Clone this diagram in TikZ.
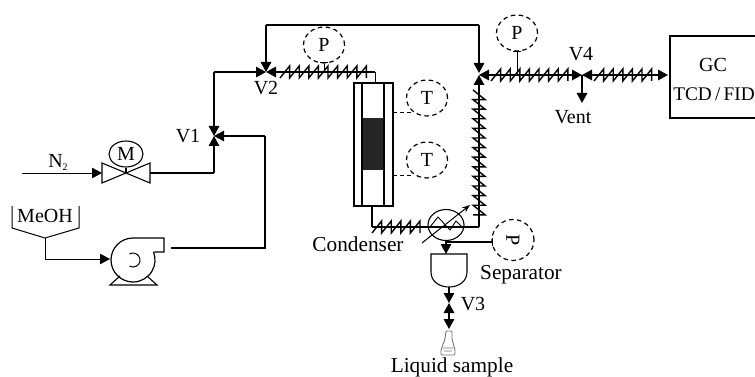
\documentclass[tikz,border=0pt]{standalone}
\usepackage{fontspec}
\setmainfont{Liberation Serif}
\usetikzlibrary{arrows.meta,decorations,shapes.geometric}
\pgfdeclaredecoration{tooth}{init}{
  \state{init}[width=0pt,next state=t]{\pgfpathmoveto{\pgfpoint{0pt}{-\pgfdecorationsegmentamplitude}}}
  \state{t}[width=\pgfdecorationsegmentlength]{
    \pgfpathlineto{\pgfpoint{\pgfdecorationsegmentlength}{\pgfdecorationsegmentamplitude}}
    \pgfpathlineto{\pgfpoint{\pgfdecorationsegmentlength}{-\pgfdecorationsegmentamplitude}}
  }
  \state{final}{\pgfpathmoveto{\pgfpointdecoratedpathlast}}
}
\tikzset{
  x=1pt,y=-1pt,
  pipe/.style={line width=1.5pt},
  thin pipe/.style={line width=1pt},
  flow/.style={-{Triangle[length=10pt,width=10.5pt]}},
  heated/.style={line width=1.5pt,postaction={draw,decorate,line width=1.4pt,decoration={tooth,segment length=9.6pt,amplitude=6pt}}},
  gauge/.style={draw,dash pattern=on 4.5pt off 3.5pt,line width=1.2pt,ellipse,minimum width=41pt,minimum height=36pt,inner sep=0pt},
  lbl/.style={font=\fontsize{20}{22}\selectfont,inner sep=0pt},
  lblw/.style={font=\fontsize{21.3}{23}\selectfont,inner sep=0pt},
}
\begin{document}
\begin{tikzpicture}
\useasboundingbox (0,0) rectangle (755,377);
% named points
\coordinate (v1) at (214,136);
\coordinate (v2) at (266,72);
\coordinate (j) at (479,75);
\coordinate (v4) at (582,75);
\coordinate (n2start) at (22,173);
\coordinate (valveL) at (102,173);
\coordinate (valveR) at (150,173);
\coordinate (valveC) at (126,173);
\coordinate (v1bend) at (214,173);
\coordinate (v2bend) at (214,72);
\coordinate (pumpOut) at (171,248);
\coordinate (pumpBend) at (265,248);
\coordinate (pumpBend2) at (265,136);
% N2 and valve
\node[lbl] (n2lab) at (58,162) {N\raisebox{-3pt}{\fontsize{10}{10}\selectfont 2}};
\draw[thin pipe,flow] (n2start) -- (valveL);
\draw[line width=1.1pt] (102,163) -- (150,183) -- (150,163) -- (102,183) -- cycle;
\node[draw,ellipse,line width=1.1pt,minimum width=34pt,minimum height=26pt,inner sep=0pt,lbl] (mot) at (126,154) {M};
\draw[line width=1.3pt] (mot.south) -- (valveC);
\draw[pipe] (valveR) -- (v1bend);
\draw[pipe,flow] (v1bend) -- (v1);
% V1
\node[lbl] (v1lab) at (188,136) {V1};
\draw[pipe,flow] (v2bend) -- (v1);
\draw[pipe] (pumpOut) -- (pumpBend) -- (pumpBend2);
\draw[pipe,flow] (pumpBend2) -- (v1);
\draw[pipe,flow] (v2bend) -- (v2);
% MeOH
\draw[line width=1pt] (12,206) -- (12,228) -- (45,238) -- (79,228) -- (79,206);
\node[lbl] (meoh) at (45,216) {MeOH};
\coordinate (pumpIn) at (110,259);
\draw[thin pipe,flow] (45,238) -- (45,259) -- (pumpIn);
% pump
\draw[line width=1.2pt] (164,252) -- (164,238) -- (133,238) arc[start angle=90,end angle=381,radius=22pt] -- cycle;
\draw[line width=1pt] (129.5,254) arc[start angle=120,end angle=-120,radius=7pt];
\draw[line width=1.1pt] (120,276) -- (110,285) -- (157,285) -- (147,276);
% top loop
\coordinate (jt) at (479,73);
\draw[line width=1.7pt] (266,25) -- (479,25);
\draw[line width=1.7pt,flow] (479,25) -- (jt);
\draw[line width=1.7pt,flow] (266,25) -- (v2);
% V2 heated
\node[lbl] (v2lab) at (266,88) {V2};
\coordinate (h1) at (375,72);
\coordinate (colTop) at (375,83);
\draw[heated] (280,72) -- (h1);
\draw[pipe,flow] (282,72) -- (v2);
\draw[thin pipe] (h1) -- (colTop);
% column
\fill[black!85] (362,118) rectangle (384,170);
\draw[line width=1.4pt] (354,83) rectangle (393,206);
\draw[line width=1.4pt] (362,83) -- (362,206) (384,83) -- (384,206);
% gauges
\node[gauge,lbl] (p1) at (324,45) {P};
\draw[thin pipe] (p1.south) -- (324,72);
\draw[thin pipe] (320,63) -- (328,63);
\node[gauge,lbl] (t1) at (427,98) {T};
\node[gauge,lbl] (t2) at (427,160) {T};
\coordinate (d1) at (393,113);
\coordinate (d2) at (393,175);
\draw[dash pattern=on 4pt off 3pt,line width=1pt] (d1) -- (d1 -| t1.south west);
\draw[dash pattern=on 4pt off 3pt,line width=1pt] (d2) -- (d2 -| t2.south west);
\node[gauge,lbl] (p2) at (517,33) {P};
\draw[thin pipe] (p2.south) -- (517,75);
\draw[thin pipe] (513,52) -- (521,52);
% right junction
\coordinate (hb) at (479,227);
\coordinate (hzTop) at (479,90);
\draw[heated] (hzTop) -- (479,218);
\draw[pipe] (479,218) -- (hb);
\draw[pipe,flow] (479,92) -- (j);
\draw[heated] (491,75) -- (572,75);
\draw[pipe,flow] (494,75) -- (j);
\draw[pipe,flow] (568,75) -- (v4);
\draw[heated] (594,75) -- (655,75);
\draw[pipe,flow] (598,75) -- (v4);
\coordinate (gcw) at (668,75);
\draw[pipe,flow] (652,75) -- (gcw);
\node[lbl] (v4lab) at (581,54) {V4};
\draw[pipe,flow] (v4) -- (582,103);
\node[lbl] (vent) at (573,117) {Vent};
% GC
\draw[line width=1.4pt] (755,36) -- (670,36) -- (670,118) -- (755,118);
\node[lbl] (gct) at (713,65) {GC};
\node[font=\fontsize{19.3}{22}\selectfont,inner sep=0pt] (tcd) at (714,94) {TCD\,/\,FID};
% bottom run
\coordinate (colB) at (372,206);
\coordinate (bendB) at (372,227);
\draw[pipe] (colB) -- (bendB);
\draw[heated] (bendB) -- (423,227);
\draw[pipe] (423,227) -- (hb);
% condenser
\node[draw,ellipse,line width=1.1pt,minimum width=36pt,minimum height=31pt,inner sep=0pt] (hx) at (446,225) {};
\draw[line width=.9pt] (430,227) -- (438,217) -- (450,230) -- (456,221) -- (463,228);
\draw[line width=1pt,-{Stealth[length=8pt,width=6pt]}] (422,243) -- (470,205);
\node[lblw] (cond) at (358,244) {Condenser};
% separator
\coordinate (sepTop) at (446,254);
\draw[pipe,flow] (hx.south) -- (sepTop);
\coordinate (br) at (446,242);
\coordinate (brEnd) at (492,242);
\draw[pipe] (br) -- (brEnd);
\draw[thin pipe] (492,238) -- (492,246);
\node[gauge,minimum width=42pt,minimum height=41pt] (p3) at (513,240) {};
\node[lbl,rotate=-90] at (513,240) {P};
\draw[line width=1.1pt] (431,254) -- (467,254) -- (467,272) .. controls (467,282) and (458,287) .. (449,287) .. controls (440,287) and (431,282) .. (431,272) -- cycle;
\node[lblw] (sep) at (521,275) {Separator};
% V3
\coordinate (v3) at (449,303);
\coordinate (sepB) at (449,287);
\coordinate (v3b) at (449,318);
\coordinate (flask) at (449,329);
\draw[pipe,flow] (sepB) -- (v3);
\draw[pipe,flow] (v3b) -- (v3);
\draw[pipe,flow] (v3b) -- (flask);
\node[lbl] (v3lab) at (473,304) {V3};
% flask
\draw[line width=.9pt,black!55,rounded corners=1pt] (446,331) -- (452,331) -- (452,339) -- (455,350) -- (455,355) -- (441,355) -- (441,350) -- (445,339) -- cycle (443,348) -- (453,348) (444,351) -- (452,351);
\node[lblw] (liq) at (452,367) {Liquid sample};
\end{tikzpicture}
\end{document}
